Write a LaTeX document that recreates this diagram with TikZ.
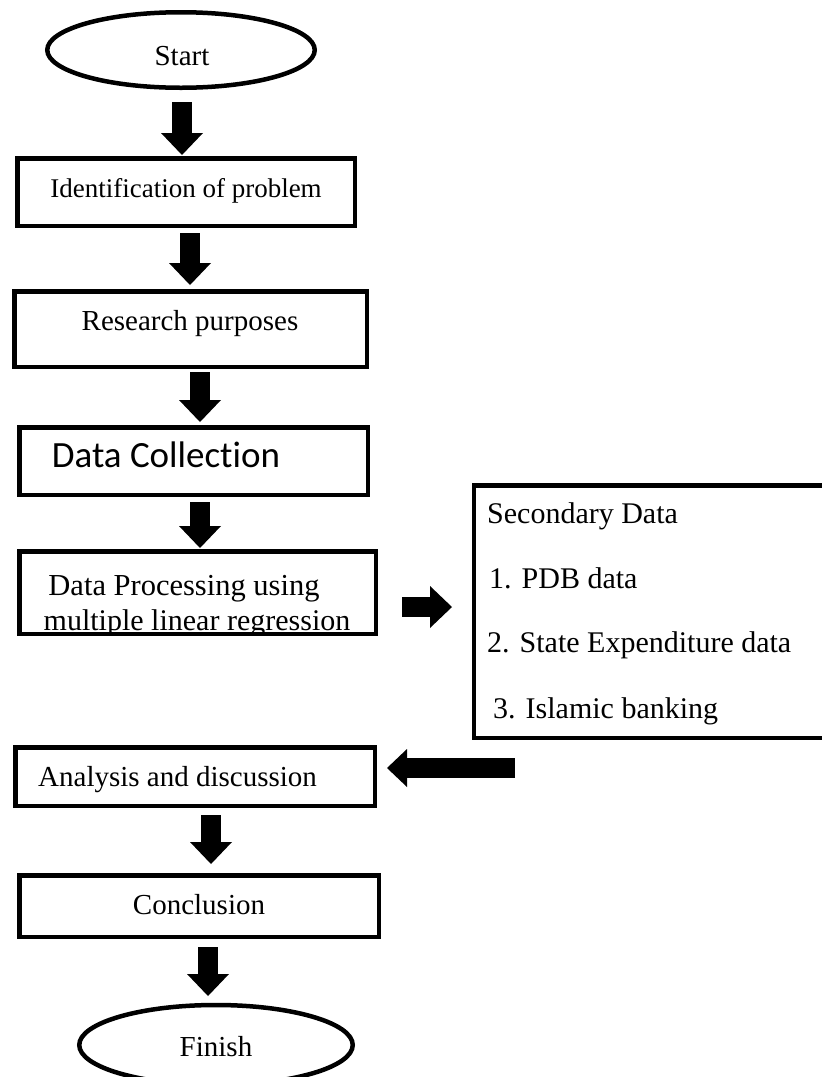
\documentclass[tikz,border=0pt]{standalone}
\usepackage{fontspec}
\setmainfont{Liberation Serif}
\newfontfamily\calib[Ligatures=NoCommon]{Carlito}
\usetikzlibrary{arrows.meta,shapes.geometric}
\begin{document}
\begin{tikzpicture}[x=1pt,y=-1pt,
  box/.style={draw,line width=4.5pt,rectangle,inner sep=0pt},
  oval/.style={draw,line width=4.5pt,ellipse,inner sep=0pt},
  lbl/.style={inner sep=0pt,anchor=base},
  lbll/.style={inner sep=0pt,anchor=base west},
  blk/.style={line width=20pt,-{Triangle[width=42pt,length=22pt,line width=0pt]}},
  f29/.style={font=\fontsize{29}{34}\selectfont},
  f30/.style={font=\fontsize{30}{36}\selectfont},
]
\useasboundingbox (0,0) rectangle (822,1077);
\fill[white] (0,0) rectangle (822,1077);

% shapes
\node[oval,minimum width=267.5pt,minimum height=75.5pt] (start) at (181,50) {};
\node[box,minimum width=337.5pt,minimum height=67.5pt] (idf) at (186,192) {};
\node[box,minimum width=352.5pt,minimum height=75.5pt] (res) at (190.5,329) {};
\node[box,minimum width=348.5pt,minimum height=67.5pt] (dc) at (193.5,461) {};
\node[box,minimum width=356.5pt,minimum height=82.5pt] (dp) at (197.5,592.5) {};
\node[box,minimum width=365.75pt,minimum height=252.5pt] (sec) at (657,611.5) {};
\node[box,minimum width=359.5pt,minimum height=58.5pt] (ana) at (195,776.5) {};
\node[box,minimum width=359.5pt,minimum height=61.5pt] (con) at (199,906) {};
\node[oval,minimum width=273.5pt,minimum height=80pt] (fin) at (216,1045) {};

% texts
\node[lbl,f29] (tstart) at (182,65) {Start};
\node[lbl,font=\fontsize{27}{32}\selectfont] (tidf) at (186,197) {Identification of problem};
\node[lbl,f29] (tres) at (190,330) {Research purposes};
\node[lbl,font=\calib\fontsize{37}{44}\selectfont] (tdc) at (166,467) {Data Collection};
\node[lbl,font=\fontsize{30.5}{36}\selectfont] (tdp1) at (184,595) {Data Processing using};
\begin{scope}
  \clip (0,600) rectangle (420,631);
  \node[lbl,font=\fontsize{30}{36}\selectfont] (tdp2) at (197,630) {multiple linear regression};
\end{scope}
\node[lbll,f30] (ts0) at (487,523) {Secondary Data};
\node[lbll,f30] (ts1) at (489,588) {1. PDB data};
\node[lbll,f30] (ts2) at (487,652) {2. State Expenditure data};
\node[lbll,f30] (ts3) at (493,718) {3. Islamic banking};
\node[lbll,f29] (tana) at (38,786) {Analysis and discussion};
\node[lbl,f29] (tcon) at (199,914) {Conclusion};
\node[lbl,f29] (tfin) at (216,1056) {Finish};

% connector end points
\coordinate (a1s) at (182,102); \coordinate (a1e) at (182,155);
\coordinate (a2s) at (190,233); \coordinate (a2e) at (190,285);
\coordinate (a3s) at (200,372); \coordinate (a3e) at (200,422);
\coordinate (a4s) at (200,502); \coordinate (a4e) at (200,548);
\coordinate (a5s) at (211,815); \coordinate (a5e) at (211,864);
\coordinate (a6s) at (208,947); \coordinate (a6e) at (208,996);
\coordinate (ars) at (402,607); \coordinate (are) at (452,607);
\coordinate (als) at (515,768); \coordinate (ale) at (387,768);

% connectors
\draw[blk] (a1s) -- (a1e);
\draw[blk] (a2s) -- (a2e);
\draw[blk] (a3s) -- (a3e);
\draw[blk] (a4s) -- (a4e);
\draw[blk] (ars) -- (are);
\draw[line width=20pt,-{Triangle[width=38pt,length=20pt,line width=0pt]}] (als) -- (ale);
\draw[blk] (a5s) -- (a5e);
\draw[blk] (a6s) -- (a6e);
\end{tikzpicture}
\end{document}
